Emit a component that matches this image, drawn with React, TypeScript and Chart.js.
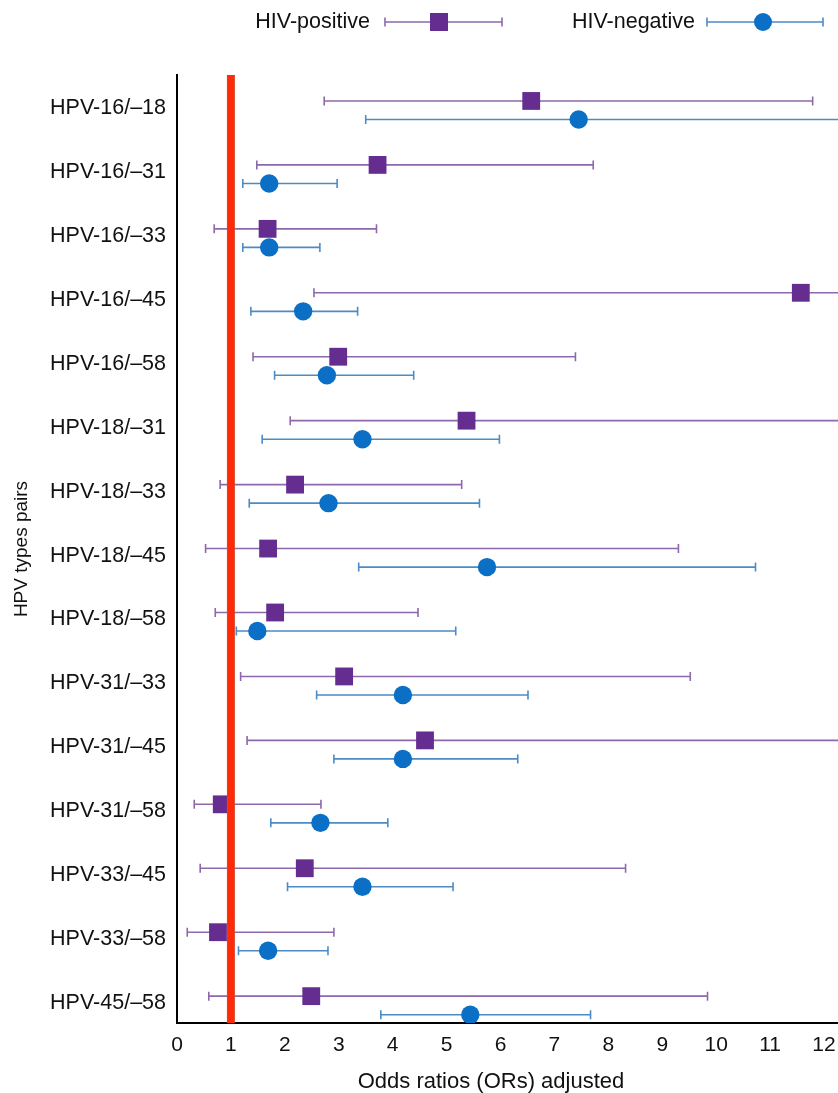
import { useEffect, useRef } from 'react';
import { Chart, registerables } from 'chart.js';

Chart.register(...registerables);

// HPV type pairs (one row each, top to bottom)
const categories = [
  'HPV-16/–18', 'HPV-16/–31', 'HPV-16/–33', 'HPV-16/–45', 'HPV-16/–58',
  'HPV-18/–31', 'HPV-18/–33', 'HPV-18/–45', 'HPV-18/–58', 'HPV-31/–33',
  'HPV-31/–45', 'HPV-31/–58', 'HPV-33/–45', 'HPV-33/–58', 'HPV-45/–58',
];

// Adjusted odds ratios with 95% confidence limits
const posOR = [6.57, 3.72, 1.68, 11.57, 2.99, 5.37, 2.19, 1.69, 1.82, 3.10, 4.60, 0.83, 2.37, 0.76, 2.49];
const posLow = [2.73, 1.48, 0.69, 2.54, 1.41, 2.10, 0.80, 0.53, 0.71, 1.18, 1.30, 0.32, 0.43, 0.19, 0.59];
const posHigh = [11.79, 7.72, 3.70, 14.6, 7.39, 13.9, 5.28, 9.30, 4.47, 9.52, 13.2, 2.67, 8.32, 2.91, 9.84];

const negOR = [7.45, 1.71, 1.71, 2.34, 2.78, 3.44, 2.81, 5.75, 1.49, 4.19, 4.19, 2.66, 3.44, 1.69, 5.44];
const negLow = [3.50, 1.22, 1.22, 1.37, 1.81, 1.58, 1.34, 3.37, 1.10, 2.59, 2.91, 1.74, 2.05, 1.14, 3.78];
const negHigh = [15.8, 2.97, 2.65, 3.35, 4.39, 5.98, 5.61, 10.73, 5.17, 6.51, 6.32, 3.91, 5.12, 2.80, 7.67];

const seriesLabels = ['HIV-positive', 'HIV-negative'];
const xTitle = 'Odds ratios (ORs) adjusted';
const yTitle = 'HPV types pairs';
const referenceOR = 1;

const FONT = '"Liberation Sans", Arial, Helvetica, sans-serif';
const PURPLE_MARK = '#662d91';
const PURPLE_LINE = '#8d68ab';
const BLUE_MARK = '#0b6fc6';
const BLUE_LINE = '#4b8bc6';
const TEXT = '#111111';

const drawBar = (ctx: CanvasRenderingContext2D, x0: number, x1: number, y: number, color: string) => {
  ctx.strokeStyle = color;
  ctx.lineWidth = 1.6;
  ctx.beginPath();
  ctx.moveTo(x0, y);
  ctx.lineTo(x1, y);
  ctx.moveTo(x0, y - 4.5);
  ctx.lineTo(x0, y + 4.5);
  ctx.moveTo(x1, y - 4.5);
  ctx.lineTo(x1, y + 4.5);
  ctx.stroke();
};

// Confidence-interval whiskers drawn under each marker
const errorBarPlugin = {
  id: 'errorBars',
  beforeDatasetsDraw(chart: any) {
    const { ctx, chartArea } = chart;
    const xs = chart.scales.x;
    ctx.save();
    ctx.beginPath();
    ctx.rect(chartArea.left, chartArea.top - 10, chartArea.right - chartArea.left, chartArea.bottom - chartArea.top + 20);
    ctx.clip();
    chart.data.datasets.forEach((ds: any, di: number) => {
      const meta = chart.getDatasetMeta(di);
      meta.data.forEach((pt: any, i: number) => {
        drawBar(ctx, xs.getPixelForValue(ds.lows[i]), xs.getPixelForValue(ds.highs[i]), pt.y, ds.barColor);
      });
    });
    ctx.restore();
  },
};

// Vertical line of no association (OR = 1)
const referenceLinePlugin = {
  id: 'referenceLine',
  afterDatasetsDraw(chart: any) {
    const { ctx, chartArea } = chart;
    const px = chart.scales.x.getPixelForValue(referenceOR);
    ctx.save();
    ctx.fillStyle = '#d9442e';
    ctx.fillRect(px - 4, chartArea.top, 8, chartArea.bottom - chartArea.top);
    ctx.fillStyle = '#ff2a06';
    ctx.fillRect(px - 3, chartArea.top, 6, chartArea.bottom - chartArea.top);
    ctx.restore();
  },
};

// Legend with whisker glyphs, and the x-axis title
const legendPlugin = {
  id: 'whiskerLegend',
  afterDraw(chart: any) {
    const { ctx, chartArea } = chart;
    const ds = chart.data.datasets;
    const y = 22;
    ctx.save();
    ctx.font = `21.5px ${FONT}`;
    ctx.fillStyle = TEXT;
    ctx.textBaseline = 'middle';
    ctx.textAlign = 'right';
    ctx.fillText(ds[0].label, 370, y);
    drawBar(ctx, 385, 502, y, ds[0].barColor);
    ctx.fillStyle = ds[0].backgroundColor;
    ctx.fillRect(439 - 9, y - 9, 18, 18);

    ctx.fillStyle = TEXT;
    ctx.fillText(ds[1].label, 695, y);
    drawBar(ctx, 707, 823, y, ds[1].barColor);
    ctx.fillStyle = ds[1].backgroundColor;
    ctx.beginPath();
    ctx.arc(763, y, 9, 0, Math.PI * 2);
    ctx.fill();

    ctx.fillStyle = TEXT;
    ctx.textAlign = 'center';
    ctx.font = `22px ${FONT}`;
    ctx.fillText(xTitle, chartArea.left + 314, 1082);
    ctx.restore();
  },
};

export default function App() {
  const canvasRef = useRef<HTMLCanvasElement | null>(null);

  useEffect(() => {
    if (!canvasRef.current) return;
    const chart = new Chart(canvasRef.current, {
      type: 'scatter',
      data: {
        datasets: [
          {
            label: seriesLabels[0],
            data: posOR.map((v, i) => ({ x: v, y: i - 0.11 })),
            lows: posLow,
            highs: posHigh,
            barColor: PURPLE_LINE,
            pointStyle: 'rect',
            pointRadius: 12.6,
            pointHoverRadius: 12.6,
            backgroundColor: PURPLE_MARK,
            borderWidth: 0,
          } as any,
          {
            label: seriesLabels[1],
            data: negOR.map((v, i) => ({ x: v, y: i + 0.18 })),
            lows: negLow,
            highs: negHigh,
            barColor: BLUE_LINE,
            pointStyle: 'circle',
            pointRadius: 9.2,
            pointHoverRadius: 9.2,
            backgroundColor: BLUE_MARK,
            borderWidth: 0,
          } as any,
        ],
      },
      options: {
        animation: false,
        responsive: false,
        events: [],
        layout: { autoPadding: false, padding: { top: 75, right: 0, bottom: 0, left: 0 } },
        plugins: {
          legend: { display: false },
          tooltip: { enabled: false },
        },
        scales: {
          x: {
            type: 'linear',
            min: 0,
            max: 12.26,
            grid: { display: false, drawTicks: false },
            border: { display: true, color: '#000', width: 2 },
            ticks: {
              stepSize: 1,
              includeBounds: false,
              autoSkip: false,
              maxRotation: 0,
              padding: 10,
              color: TEXT,
              font: { size: 21, family: FONT },
            },
            afterFit(s: any) {
              s.height = 70;
              s.paddingLeft = 0;
              s.paddingRight = 0;
            },
          },
          y: {
            type: 'linear',
            reverse: true,
            min: -0.516,
            max: 14.31,
            grid: { display: false, drawTicks: false },
            border: { display: true, color: '#000', width: 2 },
            afterBuildTicks(s: any) {
              s.ticks = categories.map((_, i) => ({ value: i }));
            },
            ticks: {
              autoSkip: false,
              padding: 11,
              color: TEXT,
              font: { size: 21.5, family: FONT },
              callback: (v: any) => categories[Math.round(Number(v))],
            },
            title: {
              display: true,
              text: yTitle,
              color: TEXT,
              font: { size: 19, family: FONT },
              padding: { top: 10, bottom: 0 },
            },
            afterFit(s: any) {
              s.width = 177;
              s.paddingTop = 0;
              s.paddingBottom = 0;
            },
          },
        },
      },
      plugins: [errorBarPlugin, referenceLinePlugin, legendPlugin],
    } as any);
    return () => chart.destroy();
  }, []);

  return (
    <div style={{ position: 'absolute', left: 0, top: 0, width: 838, height: 1093, background: '#fff' }}>
      <canvas ref={canvasRef} width={838} height={1093} style={{ display: 'block', width: 838, height: 1093 }} />
    </div>
  );
}
